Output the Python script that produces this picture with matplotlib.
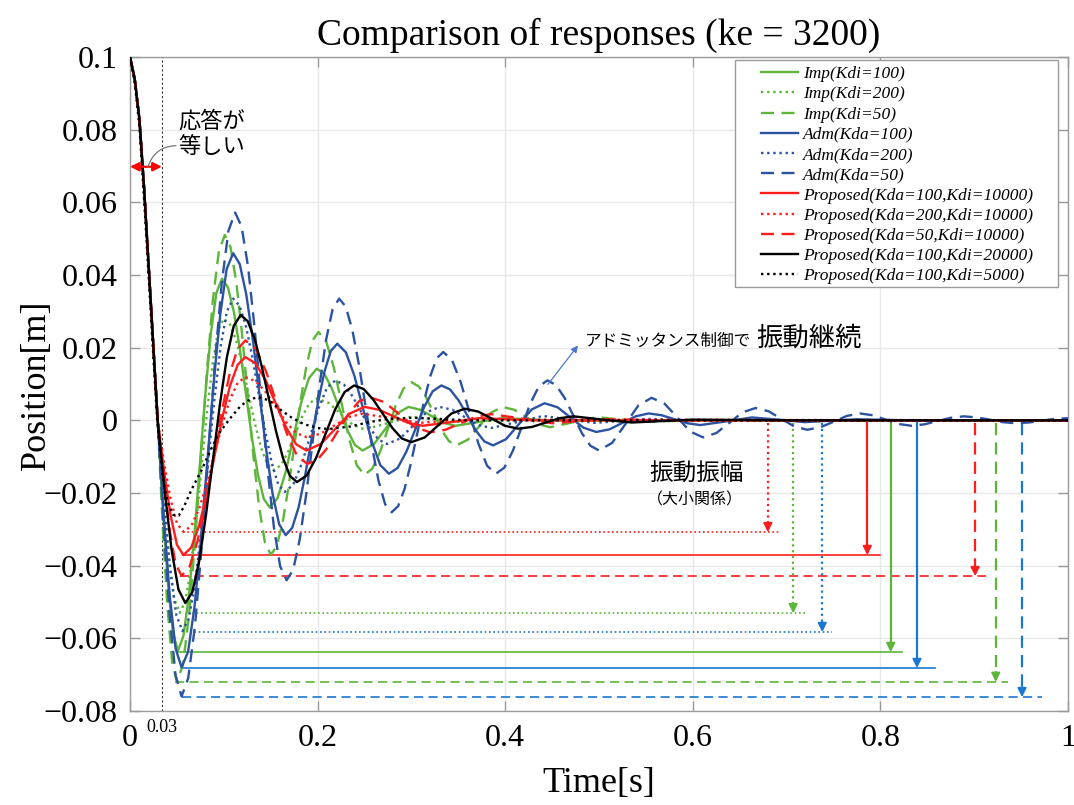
import matplotlib
matplotlib.use('Agg')
import matplotlib.pyplot as plt
from matplotlib.patches import Rectangle

# ---------------- data ----------------
# common first descent (all responses are equal up to ~0.03 s)
t_head = [0, 0.005, 0.010, 0.015, 0.020, 0.025, 0.0295]
v_head = [0.1, 0.094, 0.083, 0.064, 0.042, 0.020, 0.0]

imp100_t = [.0349, .0403, .0456, .051, .0569, .0628, .0686, .0745, .0804, .0863, .0921, .098,
            .1044, .1108, .1171, .1235, .1299, .1363, .1426, .149, .1573, .1657, .174, .1823,
            .1907, .199, .2072, .2153, .2235, .2317, .2398, .248, .2603, .2725, .2848, .297,
            .3095, .322, .3345, .347, .372, .397, .45, 1.0]
imp100_v = [-.0241, -.0445, -.0582, -.0635, -.0594, -.0483, -.0316, -.012, .0075, .0241, .0351, .039,
            .0366, .0298, .0196, .0075, -.0046, -.0148, -.0216, -.024, -.0214, -.0145, -.0049, .0047,
            .0116, .0142, .0128, .0087, .003, -.0027, -.0068, -.0083, -.0065, -.0023, .0019, .0037,
            .0029, .0011, -.0007, -.0015, -.00045, .0006, 0, 0]

imp200_t = [.0354, .0413, .0471, .053, .0589, .0648, .0706, .0765, .0824, .0883, .0941, .100,
            .1066, .1133, .1199, .1265, .1331, .1398, .1464, .153, .1607, .1683, .176, .1837,
            .1913, .199, .2118, .2245, .2373, .25, .275, .30, .35, .40, 1.0]
imp200_v = [-.0203, -.0375, -.049, -.053, -.0499, -.0411, -.028, -.0125, .003, .0161, .0249, .028,
            .0264, .0219, .0151, .0072, -.0008, -.0076, -.0121, -.0137, -.0124, -.0088, -.0039, .0011,
            .0047, .006, .0048, .0018, -.0012, -.0025, -.00075, .001, -.0004, 0, 0]

imp50_t = [.0346, .0398, .0449, .050, .0564, .0628, .0691, .0755, .0819, .0883, .0946, .101,
           .1071, .1133, .1194, .1255, .1316, .1378, .1439, .150, .1564, .1628, .1691, .1755,
           .1819, .1883, .1946, .201, .2092, .2173, .2255, .2337, .2418, .250, .2583, .2667,
           .275, .2833, .2917, .300, .308, .316, .324, .332, .340, .348, .3603, .3725, .3848,
           .397, .4098, .4225, .4353, .448, .473, .498, .523, .55, .6, 1.0]
imp50_v = [-.0276, -.0509, -.0665, -.072, -.0673, -.054, -.0341, -.0105, .0131, .033, .0463, .051,
           .0477, .0381, .0239, .007, -.0099, -.0241, -.0337, -.037, -.0347, -.028, -.0181, -.0064,
           .0054, .0153, .022, .0243, .0217, .0145, .0047, -.0052, -.0124, -.015, -.0133, -.0086,
           -.0023, .0041, .0088, .0105, .0093, .0062, .0018, -.0026, -.0057, -.0069, -.0053, -.0016, .0021,
           .0037, .0029, .0009, -.0011, -.0019, -.0005, .0009, .0002, -.0004, 0, 0]

adm100_t = [.0359, .0423, .0486, .055, .0619, .0688, .0756, .0825, .0894, .0963, .1031, .110,
            .117, .124, .131, .138, .145, .152, .159, .166, .1729, .1798, .1866, .1935,
            .2004, .2073, .2141, .221, .2302, .2393, .2485, .2577, .2668, .276, .2853, .2947,
            .304, .3133, .3227, .332, .3412, .3503, .3595, .3687, .3778, .387, .4008, .4145,
            .4283, .442, .4558, .4695, .4833, .497, .511, .525, .539, .553, .5668, .5805,
            .5943, .608, .6355, .663, .691, .719, .7465, .774, .83, 1.0]
adm100_v = [-.026, -.0481, -.0628, -.068, -.0637, -.0513, -.0328, -.011, .0108, .0293, .0417, .046,
            .043, .0346, .0221, .0072, -.0077, -.0202, -.0286, -.0316, -.0296, -.0239, -.0153, -.0053,
            .0048, .0134, .0191, .0211, .0187, .0122, .0032, -.0058, -.0123, -.0147, -.0131, -.0086,
            -.0026, .0035, .008, .0096, .0085, .0055, .0014, -.0028, -.0058, -.0069, -.0052, -.0011,
            .003, .0047, .0036, .0008, -.002, -.0032, -.0025, -.0007, .0011, .0019, .0014, .0003,
            -.0008, -.0013, -.0003, .0008, .0002, -.0005, -.0001, .0003, 0, 0]

adm200_t = [.0361, .0428, .0494, .056, .0628, .0695, .0763, .083, .0898, .0965, .1033, .110,
            .1169, .1238, .1306, .1375, .1444, .1513, .1581, .165, .174, .183, .192, .201,
            .210, .219, .2282, .2373, .2465, .2557, .2648, .274, .288, .302, .316, .330,
            .3438, .3575, .3713, .385, .4125, .44, .4675, .495, .5225, .55, .6, 1.0]
adm200_v = [-.0222, -.041, -.0536, -.058, -.0545, -.0446, -.0298, -.0123, .0053, .0201, .030, .0335,
            .0315, .0257, .0171, .0069, -.0033, -.0119, -.0177, -.0197, -.0177, -.012, -.0044, .0033,
            .009, .011, .0098, .0066, .0023, -.0021, -.0053, -.0065, -.005, -.0014, .0022, .0037,
            .0029, .0008, -.0013, -.0021, -.0005, .0012, .0003, -.0007, -.0002, .0004, 0, 0]

adm50_t = [.0359, .0423, .0486, .055, .0621, .0693, .0764, .0835, .0906, .0978, .1049, .112,
           .1189, .1258, .1326, .1395, .1464, .1533, .1601, .167, .174, .181, .188, .195,
           .202, .209, .216, .223, .230, .237, .244, .251, .258, .265, .272, .279,
           .2859, .2928, .2996, .3065, .3134, .3203, .3271, .334, .3433, .3527, .362, .3713,
           .3807, .390, .3992, .4083, .4175, .4267, .4358, .445, .4542, .4633, .4725, .4817,
           .4908, .500, .514, .528, .542, .556, .5698, .5835, .5973, .611, .625, .639,
           .653, .667, .6808, .6945, .7083, .722, .736, .750, .764, .778, .7918, .8055,
           .8193, .833, .847, .861, .875, .889, .9028, .9165, .9303, .944, .958, .972,
           .986, 1.0]
adm50_v = [-.0291, -.0537, -.0702, -.076, -.0709, -.0565, -.0349, -.0094, .0161, .0377, .0521, .0572,
           .0534, .0424, .026, .0066, -.0128, -.0292, -.0402, -.044, -.0411, -.0327, -.0201, -.0053,
           .0096, .0221, .0306, .0335, .0313, .0249, .0154, .0041, -.0072, -.0167, -.0231, -.0253,
           -.0236, -.0188, -.0117, -.0033, .0052, .0123, .0171, .0188, .0166, .0104, .0021, -.0063,
           -.0125, -.0147, -.013, -.0083, -.0019, .0046, .0093, .011, .0097, .0062, .0014, -.0035,
           -.007, -.0083, -.0062, -.0011, .0041, .0062, .0046, .0008, -.0031, -.0047, -.0035, -.0007,
           .0022, .0034, .0025, .0004, -.0017, -.0026, -.0019, -.0004, .0012, .0019, .0014, .0002,
           -.001, -.0015, -.0011, -.0002, .0007, .0011, .0008, .0002, -.0005, -.0008, -.0006, -.0001,
           .0004, .0006]

p100_10k_t = [.0364, .0433, .0501, .057, .0653, .0735, .0818, .090, .0983, .1065, .1148, .123,
              .1338, .1447, .1555, .1663, .1772, .188, .2035, .219, .2345, .250, .2655, .281,
              .2965, .312, .342, .372, .43, 1.0]
p100_10k_v = [-.0142, -.0262, -.0343, -.0371, -.035, -.0291, -.0203, -.0099, .0006, .0094, .0153, .0174,
              .0157, .011, .0046, -.0019, -.0066, -.0083, -.0065, -.0023, .0019, .0037, .0029, .0011,
              -.0007, -.0015, -.0005, .0006, 0, 0]

p200_10k_t = [.0364, .0433, .0501, .057, .0653, .0735, .0818, .090, .0983, .1065, .1148, .123,
              .1338, .1447, .1555, .1663, .1772, .188, .203, .218, .233, .248, .279, .31,
              .34, .37, 1.0]
p200_10k_v = [-.0118, -.0217, -.0284, -.0307, -.0291, -.0245, -.0176, -.0094, -.0012, .0057, .0103, .0119,
              .0108, .0078, .0037, -.0005, -.0035, -.0046, -.0037, -.0014, .0009, .0018, .0006, -.0007,
              0, .0002, 0]

p50_10k_t = [.0359, .0423, .0486, .055, .0635, .072, .0805, .089, .0975, .106, .1145, .123,
             .134, .145, .156, .167, .178, .189, .200, .211, .222, .233, .244, .255,
             .2713, .2875, .3038, .320, .3363, .3525, .3688, .385, .4175, .45, .48, .51,
             .57, 1.0]
p50_10k_v = [-.0164, -.0303, -.0395, -.0428, -.0403, -.0333, -.0228, -.0104, .002, .0125, .0195, .022,
             .0197, .0135, .005, -.0035, -.0097, -.012, -.0108, -.0074, -.0028, .0018, .0052, .0064,
             .005, .0016, -.0019, -.0033, -.0026, -.0008, .001, .0017, .0005, -.0008, -.0002, .0003,
             0, 0]

p100_20k_t = [.0369, .0443, .0516, .059, .0664, .0738, .0811, .0885, .0959, .1033, .1106, .118,
              .1255, .133, .1405, .148, .1555, .163, .1705, .178, .1882, .1983, .2085, .2187,
              .2288, .239, .2492, .2593, .2695, .2797, .2898, .300, .3143, .3285, .3428, .357,
              .3713, .3855, .3998, .414, .4288, .4435, .4583, .473, .504, .535, .567, .60,
              .70, 1.0]
p100_20k_v = [-.0193, -.0356, -.0465, -.0503, -.0473, -.0387, -.0259, -.0107, .0045, .0174, .026, .029,
              .0273, .0223, .0148, .006, -.0028, -.0103, -.0153, -.017, -.0152, -.0104, -.0037, .003,
              .0078, .0096, .0086, .0057, .0018, -.0021, -.005, -.006, -.0047, -.0014, .0019, .0032,
              .0024, .0005, -.0015, -.0023, -.0018, -.0006, .0006, .0011, .0002, -.0006, -.0002, .0002,
              0, 0]

p100_5k_t = [0, .005, .01, .015, .02, .025, .029, .035, .040, .046, .052, .058, .0657, .0763,
             .0853, .095, .1066, .118, .128, .137, .148, .16, .172, .185, .199, .212, .2345,
             .255, .275, .30, .33, .36, 1.0]
p100_5k_v = [.1, .093, .081, .061, .039, .017, 0, -.016, -.0225, -.026, -.0262, -.0235, -.019, -.0137,
             -.0085, -.0035, .0005, .004, .0058, .0064, .0055, .003, .0008, -.001, -.0021, -.0024, -.0017,
             -.0005, .0004, .0007, .0004, 0, 0]

labels = ['Imp(Kdi=100)', 'Imp(Kdi=200)', 'Imp(Kdi=50)',
          'Adm(Kda=100)', 'Adm(Kda=200)', 'Adm(Kda=50)',
          'Proposed(Kda=100,Kdi=10000)', 'Proposed(Kda=200,Kdi=10000)',
          'Proposed(Kda=50,Kdi=10000)', 'Proposed(Kda=100,Kdi=20000)',
          'Proposed(Kda=100,Kdi=5000)']

# amplitude markers (horizontal level line + downward arrow)
amp_level = [-0.0308, -0.0371, -0.0429, -0.0531, -0.0583, -0.0638, -0.0682, -0.0720, -0.0762]
amp_start = [0.057, 0.057, 0.053, 0.062, 0.064, 0.0515, 0.057, 0.048, 0.055]
amp_end = [0.693, 0.800, 0.9126, 0.7196, 0.748, 0.823, 0.858, 0.936, 0.972]
amp_arrow_t = [0.680, 0.786, 0.901, 0.707, 0.738, 0.811, 0.839, 0.923, 0.951]

x_ticks = [0, 0.2, 0.4, 0.6, 0.8, 1.0]
x_ticklabels = ['0', '0.2', '0.4', '0.6', '0.8', '1']
y_ticks = [0.1, 0.08, 0.06, 0.04, 0.02, 0, -0.02, -0.04, -0.06, -0.08]
y_ticklabels = ['0.1', '0.08', '0.06', '0.04', '0.02', '0',
                '\u22120.02', '\u22120.04', '\u22120.06', '\u22120.08']

# ---------------- styling ----------------
GREEN = '#5DB53A'
BLUE = '#2C52A2'
RED = '#FF1C1C'
BLACK = '#000000'
MBLUE = '#1A78D2'
DOT = (0, (1, 1.6))
DASH = (0, (5.5, 3.2))

SERIF = 'Liberation Serif'
CJK = ['Noto Sans CJK JP', 'DejaVu Sans']

fig = plt.figure(figsize=(10.74, 8.05), dpi=100)
W, H = 1074, 805
ax = fig.add_axes([130 / W, 1 - 711 / H, 938 / W, 654 / H])
ax.set_xlim(0, 1)
ax.set_ylim(-0.08, 0.1)

ax.grid(True, color='#E8E8E8', lw=1.0, zorder=0)
ax.set_axisbelow(True)
for s in ax.spines.values():
    s.set_color('#9A9A9A')
    s.set_linewidth(1.0)

ax.set_xticks(x_ticks)
ax.set_xticklabels(x_ticklabels)
ax.set_yticks(y_ticks)
ax.set_yticklabels(y_ticklabels)
ax.tick_params(direction='in', length=7, width=1, color='#9A9A9A', top=True, right=True,
               labelsize=23, pad=9)
for lab in ax.get_xticklabels() + ax.get_yticklabels():
    lab.set_family(SERIF)

series = [
    (imp100_t, imp100_v, GREEN, '-'),
    (imp200_t, imp200_v, GREEN, DOT),
    (imp50_t, imp50_v, GREEN, DASH),
    (adm100_t, adm100_v, BLUE, '-'),
    (adm200_t, adm200_v, BLUE, DOT),
    (adm50_t, adm50_v, BLUE, DASH),
    (p100_10k_t, p100_10k_v, RED, '-'),
    (p200_10k_t, p200_10k_v, RED, DOT),
    (p50_10k_t, p50_10k_v, RED, DASH),
    (p100_20k_t, p100_20k_v, BLACK, '-'),
]
handles = []
for (tt, vv, col, ls), lab in zip(series, labels[:-1]):
    ln, = ax.plot(t_head + tt, v_head + vv, color=col, ls=ls, lw=1.7, label=lab, zorder=3)
    handles.append(ln)
ln, = ax.plot(p100_5k_t, p100_5k_v, color=BLACK, ls=DOT, lw=1.7, label=labels[-1], zorder=3)
handles.append(ln)

# 0.03 marker line
ax.axvline(0.034, color='#333333', lw=0.8, ls=(0, (2, 2)), zorder=2)
ax.annotate('0.03', xy=(0.034, -0.08), xytext=(0, -6), textcoords='offset points',
            ha='center', va='top', fontsize=13, family=SERIF)

# amplitude markers
amp_cols = [RED, RED, RED, GREEN, MBLUE, GREEN, MBLUE, GREEN, MBLUE]
amp_ls = [DOT, '-', DASH, DOT, DOT, '-', '-', DASH, DASH]
for lev, x0, x1, xa, c, ls in zip(amp_level, amp_start, amp_end, amp_arrow_t, amp_cols, amp_ls):
    ax.plot([x0, x1], [lev, lev], color=c, ls=ls, lw=1.2, zorder=2)
    ax.plot([xa, xa], [-0.0008, lev + 0.0025], color=c, ls=ls, lw=1.6, zorder=2)
    ax.annotate('', xy=(xa, lev), xytext=(xa, lev + 0.0028),
                arrowprops=dict(arrowstyle='-|>', color=c, lw=1.4, mutation_scale=13,
                                shrinkA=0, shrinkB=0), zorder=2)

# "responses are equal" annotation
ax.annotate('', xy=(0.0, 0.0698), xytext=(0.034, 0.0698),
            arrowprops=dict(arrowstyle='<|-|>', color='red', lw=1.6, mutation_scale=13,
                            shrinkA=0, shrinkB=0), zorder=4)
ax.annotate('', xy=(0.0192, 0.0698), xytext=(0.049, 0.0756),
            arrowprops=dict(arrowstyle='-', color='#777777', lw=0.9,
                            connectionstyle='arc3,rad=0.35', shrinkA=0, shrinkB=0), zorder=4)
ax.text(0.0874, 0.0789, '応答が\n等しい', ha='center', va='center', fontsize=16,
        family=CJK, linespacing=1.15, zorder=4)

# admittance annotation
ax.annotate('', xy=(0.4776, 0.0206), xytext=(0.4456, 0.0099),
            arrowprops=dict(arrowstyle='-|>', color='#4A78C8', lw=0.9, mutation_scale=10,
                            shrinkA=0, shrinkB=0), zorder=4)
ax.text(0.485, 0.0219, 'アドミッタンス制御で', ha='left', va='center', fontsize=12, family=CJK)
ax.text(0.668, 0.0225, '振動継続', ha='left', va='center', fontsize=19, family=CJK)

# amplitude annotation
ax.text(0.6045, -0.0146, '振動振幅', ha='center', va='center', fontsize=17, family=CJK)
ax.text(0.602, -0.0220, '（大小関係）', ha='center', va='center', fontsize=11.5, family=CJK)

# legend with custom frame
frame = Rectangle((735 / W, 1 - 287 / H), (1058 - 735) / W, (287 - 60) / H,
                  transform=fig.transFigure, facecolor='white', edgecolor='#9A9A9A',
                  lw=1.0, zorder=10)
fig.patches.append(frame)
leg = fig.legend(handles=handles, loc='upper left', bbox_to_anchor=(761 / W, 1 - 66 / H),
                 bbox_transform=fig.transFigure, frameon=False, borderpad=0, borderaxespad=0,
                 handlelength=2.15, handletextpad=0.25, labelspacing=0.235,
                 prop=dict(family=SERIF, style='italic', size=12.5))
leg.set_zorder(11)

# titles
fig.text(599 / W, 1 - 35 / H, 'Comparison of responses (ke = 3200)', ha='center', va='center',
         fontsize=27, family=SERIF)
fig.text(599 / W, 1 - 783 / H, 'Time[s]', ha='center', va='center', fontsize=26, family=SERIF)
fig.text(36 / W, 1 - 385 / H, 'Position[m]', ha='center', va='center', rotation=90,
         fontsize=26, family=SERIF)

fig.savefig('out.png', dpi=100)
